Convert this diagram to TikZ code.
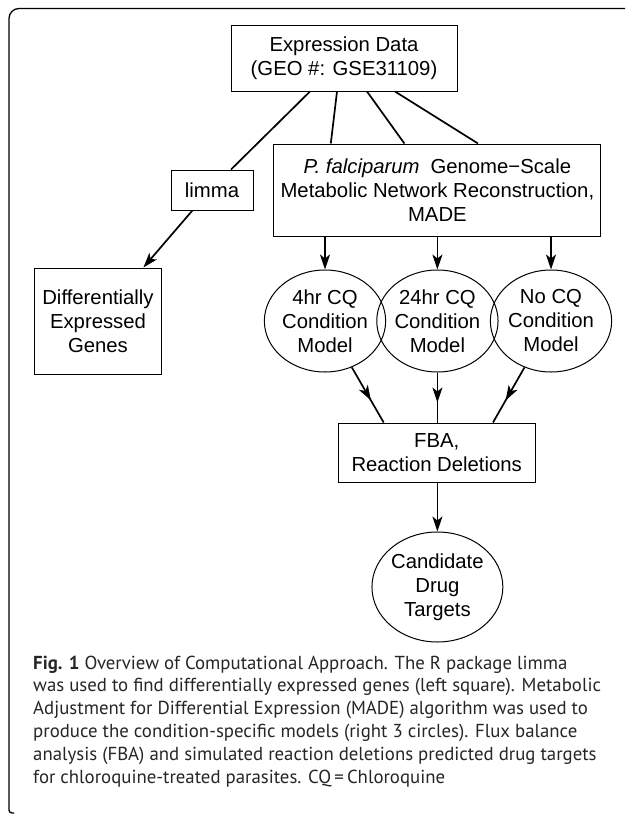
\documentclass[tikz,border=0pt]{standalone}
\usepackage{fontspec}
\setmainfont{Liberation Sans}
\newfontfamily\capfont{PT Sans}
\usetikzlibrary{arrows.meta,decorations.markings,shapes.geometric}
\begin{document}
\begin{tikzpicture}[x=1pt,y=-1pt,
  diagfont/.style={font=\fontsize{20.3}{24}\selectfont},
  box/.style={draw, line width=1pt, rectangle, inner sep=0pt, align=center, diagfont},
  circ/.style={draw, line width=1pt, ellipse, inner sep=0pt, align=center, diagfont, minimum width=112pt, minimum height=102pt},
  conn/.style={line width=1.7pt},
  tip/.tip={Stealth[length=15pt,width=10pt,inset=4pt]},
  arr/.style={conn, -tip},
  midarr/.style={conn, postaction={decorate}, decoration={markings, mark=at position 0.6 with {\arrow{tip}}}},
  capline/.style={anchor=base west, inner sep=0pt, text=black!85, font=\capfont\fontsize{18.8}{22.8}\selectfont}
]
\useasboundingbox (0,0) rectangle (625,814);
% frame
\draw[line width=1.3pt, rounded corners=10pt] (625,8.5) -- (9,8.5) [rounded corners=3pt] -- (9,813) -- (14,813);

% nodes
\node[box, minimum width=226pt, minimum height=66pt] (expr) at (344,58) {Expression Data\\(GEO \#: GSE31109)};
\node[box, minimum width=82pt, minimum height=40pt] (limma) at (212,190) {limma};
\node[box, minimum width=327pt, minimum height=92pt] (pf) at (437.4,190) {\textit{P. falciparum}\hspace{11pt}Genome−Scale\\Metabolic Network Reconstruction,\\MADE};
\node[box, minimum width=126.6pt, minimum height=106pt] (de) at (98,321) {Differentially\\Expressed\\Genes};
\node[circ] (c1) at (325,321) {4hr CQ\\Condition\\Model};
\node[circ] (c2) at (437.4,321) {24hr CQ\\Condition\\Model};
\node[circ] (c3) at (551,321) {No CQ\\Condition\\Model};
\node[box, minimum width=197pt, minimum height=59pt] (fba) at (436.7,452.5) {FBA,\\Reaction Deletions};
\node[circ, minimum width=122pt, minimum height=110pt] (cand) at (437.4,587) {Candidate\\Drug\\Targets};

% connectors
\draw[conn] ([xshift=-34pt]expr.south) -- ([xshift=19pt]limma.north);
\draw[arr] ([xshift=-19.6pt]limma.south) -- ([xshift=45.4pt]de.north);
\draw[conn] ([xshift=-7pt]expr.south) -- ([xshift=-106.6pt]pf.north);
\draw[conn] ([xshift=23pt]expr.south) -- ([xshift=-33pt]pf.north);
\draw[conn] ([xshift=51pt]expr.south) -- ([xshift=40.6pt]pf.north);
\draw[arr] (pf.south -| c1) -- (c1.north);
\draw[arr] (pf.south -| c2) -- (c2.north);
\draw[arr] (pf.south -| c3) -- (c3.north);
\draw[midarr] (c1) -- ([xshift=-53pt]fba.north);
\draw[midarr] (c2.south) -- (c2.south |- fba.north);
\draw[midarr] (c3) -- ([xshift=56.3pt]fba.north);
\draw[arr] (fba.south -| cand) -- (cand.north);

% caption
\node[capline] (l1) at (33,669) {\textbf{Fig. 1} Overview of Computational Approach. The R package limma};
\node[capline] (l2) at (33,691.8) {was used to find differentially expressed genes (left square). Metabolic};
\node[capline] (l3) at (33,714.6) {Adjustment for Differential Expression (MADE) algorithm was used to};
\node[capline] (l4) at (33,737.4) {produce the condition-specific models (right 3 circles). Flux balance};
\node[capline] (l5) at (33,760.2) {analysis (FBA) and simulated reaction deletions predicted drug targets};
\node[capline] (l6) at (33,783) {for chloroquine-treated parasites. CQ\,=\,Chloroquine};
\end{tikzpicture}
\end{document}
